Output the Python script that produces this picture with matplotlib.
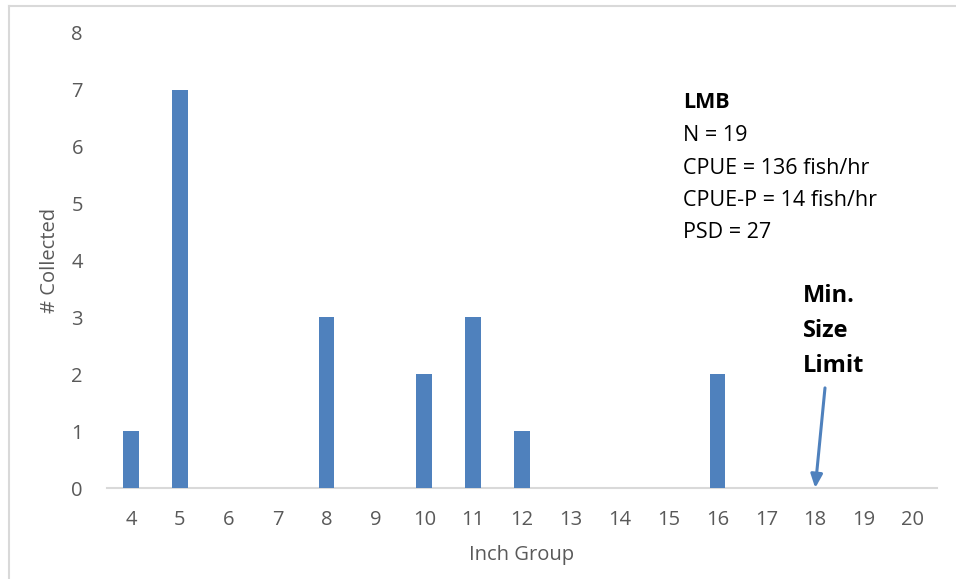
import matplotlib
matplotlib.use("Agg")
import matplotlib.pyplot as plt
from matplotlib.lines import Line2D

plt.rcParams["font.family"] = ["Open Sans", "DejaVu Sans"]

# Inch groups and number collected
inch_groups = list(range(4, 21))
n_collected = [1, 7, 0, 0, 3, 0, 2, 3, 1, 0, 0, 0, 2, 0, 0, 0, 0]

stats_title = "LMB"
stats_lines = ["N = 19", "CPUE = 136 fish/hr", "CPUE-P = 14 fish/hr", "PSD = 27"]
limit_lines = ["Min.", "Size", "Limit"]
min_size_limit = 18

BAR_COLOR = "#4F81BD"
TICK_COLOR = "#595959"
GRID_COLOR = "#D9D9D9"

W, H = 956, 579
fig = plt.figure(figsize=(W / 100, H / 100), dpi=100)
ax = fig.add_axes([106.6 / W, 1 - 488 / H, 830.8 / W, 455 / H])

ax.bar(inch_groups, n_collected, width=0.32, color=BAR_COLOR, zorder=3)
ax.set_xlim(3.5, 20.5)
ax.set_ylim(0, 8)
ax.set_xticks(inch_groups)
ax.set_yticks(range(0, 9))

for s in ["top", "right", "left"]:
    ax.spines[s].set_visible(False)
ax.spines["bottom"].set_color(GRID_COLOR)
ax.spines["bottom"].set_linewidth(1.5)
ax.tick_params(axis="both", length=0, labelsize=14.5, colors=TICK_COLOR)
ax.tick_params(axis="x", pad=16)
ax.tick_params(axis="y", pad=17)

ax.set_xlabel("Inch Group", fontsize=14.5, color=TICK_COLOR)
ax.xaxis.set_label_coords(0.5, (488 - 545) / 455)
ax.set_ylabel("# Collected", fontsize=14.5, color=TICK_COLOR)
ax.yaxis.set_label_coords((60 - 106.6) / 830.8, 0.5)


# stats block (baselines in pixel rows)
def px_to_axes(x, y):
    return (x - 106.6) / 830.8, (488 - y) / 455


tx, ty = px_to_axes(683, 108)
ax.text(tx, ty, stats_title, transform=ax.transAxes, fontsize=15.5,
        fontweight="bold", va="baseline", ha="left", color="black")
for i, line in enumerate(stats_lines):
    tx, ty = px_to_axes(683, 141 + i * 32.5)
    ax.text(tx, ty, line, transform=ax.transAxes, fontsize=15.5,
            va="baseline", ha="left", color="black")

for i, line in enumerate(limit_lines):
    tx, ty = px_to_axes(803, 302 + i * 35)
    ax.text(tx, ty, line, transform=ax.transAxes, fontsize=17,
            fontweight="bold", va="baseline", ha="left", color="black")

ax.annotate("", xy=(min_size_limit, 0), xytext=(min_size_limit + 0.2, 1.76),
            arrowprops=dict(arrowstyle="-|>,head_length=0.8,head_width=0.35",
                            color=BAR_COLOR, lw=2.2, shrinkA=0, shrinkB=0),
            zorder=5)

# chart border (top and left visible in the crop)
fig.add_artist(Line2D([9 / W, 1], [1 - 6 / H, 1 - 6 / H], color=GRID_COLOR,
                      lw=1.5, transform=fig.transFigure))
fig.add_artist(Line2D([9 / W, 9 / W], [0, 1 - 6 / H], color=GRID_COLOR,
                      lw=1.5, transform=fig.transFigure))

fig.savefig("out.png", dpi=100)
